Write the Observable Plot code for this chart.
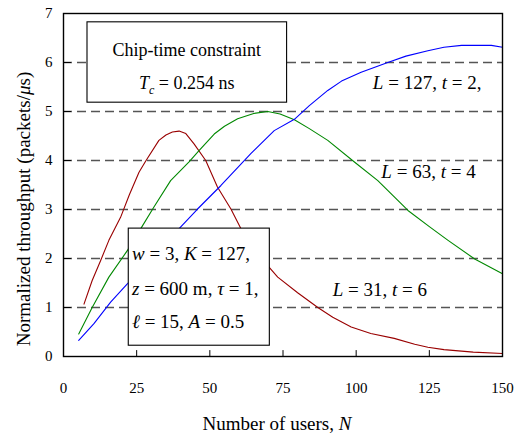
<!DOCTYPE html>
<html>
<head>
<meta charset="utf-8">
<script src="https://cdn.jsdelivr.net/npm/d3@7"></script>
<script src="https://cdn.jsdelivr.net/npm/@observablehq/plot@0.6"></script>
<style>
  html, body { margin: 0; padding: 0; background: white; }
  #chart svg, #chart svg text, #chart svg tspan { font-family: "Liberation Serif", "Times New Roman", "DejaVu Serif", serif !important; }
</style>
</head>
<body>
<div id="chart"></div>
<script>
// ---- data ----
const xTicks = [0, 25, 50, 75, 100, 125, 150];
const yTicks = [0, 1, 2, 3, 4, 5, 6, 7];
const gridY = [1, 2, 3, 4, 5, 6];
const xInnerTicks = [25, 50, 75, 100, 125];
const yInnerTicks = [1, 2, 3, 4, 5, 6];

// L = 31, t = 6 (red)
const redN = [7, 9.8, 12.7, 15.5, 19.5, 22.5, 25.8, 28.1, 32.6, 35, 37.2, 39.5, 41.8, 44.6, 48.6, 52.6, 57.2, 60.6, 65, 70.3, 73.2, 80, 86.9, 92, 98.3, 105, 113, 120, 124.5, 130, 140, 150];
const redY = [1.07, 1.55, 1.96, 2.37, 2.84, 3.3, 3.76, 3.99, 4.41, 4.52, 4.58, 4.6, 4.55, 4.34, 4.0, 3.46, 3.01, 2.61, 2.2, 1.82, 1.62, 1.3, 1.0, 0.8, 0.6, 0.47, 0.37, 0.25, 0.19, 0.14, 0.09, 0.06];

// L = 63, t = 4 (green)
const greenN = [5.2, 9.8, 15.5, 21.8, 24, 26.4, 30.9, 36.6, 42.9, 46.3, 51.5, 55, 59.5, 65, 69.8, 74, 78.9, 84, 90.3, 99.4, 107.4, 117.7, 125, 131.4, 140.5, 150];
const greenY = [0.46, 1.0, 1.62, 2.16, 2.4, 2.61, 3.05, 3.59, 3.97, 4.2, 4.54, 4.7, 4.85, 4.96, 5.0, 4.95, 4.83, 4.65, 4.41, 3.97, 3.59, 2.98, 2.65, 2.37, 1.99, 1.69];

// L = 127, t = 2 (blue)
const blueN = [5.2, 10.4, 16.1, 21.8, 26, 30, 35, 39.5, 45.8, 53.8, 64, 72, 78.9, 84, 90.3, 95, 101.7, 110.8, 117, 124.5, 130, 136, 141, 146.2, 150];
const blueY = [0.33, 0.67, 1.11, 1.48, 1.78, 2.02, 2.33, 2.61, 3.01, 3.49, 4.14, 4.61, 4.84, 5.12, 5.43, 5.62, 5.8, 6.0, 6.13, 6.24, 6.31, 6.35, 6.35, 6.35, 6.31];

// annotation boxes (data units)
const boxX1 = [8.2, 22.3];
const boxX2 = [76.4, 70.5];
const boxY1 = [5.18, 0.22];
const boxY2 = [6.82, 2.61];

// annotation texts (markup: *italic*, _subscript_)
const centerNotes = ["Chip-time constraint", "*T*_c_ = 0.254 ns"];
const centerNoteX = [42.1, 42.1];
const centerNoteY = [6.14, 5.45];

const leftNotes = ["*w* = 3, *K* = 127,", "*z* = 600 m, *τ* = 1,", "*ℓ* = 15, *A* = 0.5",
                   "*L* = 127, *t* = 2,", "*L* = 63, *t* = 4", "*L* = 31, *t* = 6"];
const leftNoteX = [23.4, 23.4, 23.4, 105.7, 108.6, 92];
const leftNoteY = [1.96, 1.26, 0.59, 5.45, 3.65, 1.24];

const xLabel = "Number of users, *N*";
const yLabel = "Normalized throughput (packets/*μ*s)";

// ---- build tables ----
const zip = (xs, ys) => xs.map((x, i) => ({x, y: ys[i]}));
const red = zip(redN, redY), green = zip(greenN, greenY), blue = zip(blueN, blueY);
const boxes = boxX1.map((_, i) => ({x1: boxX1[i], x2: boxX2[i], y1: boxY1[i], y2: boxY2[i]}));
const cNotes = centerNotes.map((t, i) => ({t, x: centerNoteX[i], y: centerNoteY[i]}));
const lNotes = leftNotes.map((t, i) => ({t, x: leftNoteX[i], y: leftNoteY[i]}));

const FONT = "Liberation Serif, Times New Roman, serif";
const tickShape = {draw(context, l) { context.moveTo(0, 0); context.lineTo(0, -l); }};

const chart = Plot.plot({
  width: 519,
  height: 438,
  marginLeft: 63,
  marginRight: 17,
  marginTop: 13,
  marginBottom: 82,
  x: {domain: [0, 150]},
  y: {domain: [0, 7]},
  style: {fontFamily: FONT, fontSize: "15px", color: "black", background: "white"},
  marks: [
    Plot.ruleY(gridY, {stroke: "#555", strokeWidth: 1.3, strokeDasharray: "9,5"}),
    Plot.line(red, {x: "x", y: "y", stroke: "#990000", strokeWidth: 1.1}),
    Plot.line(green, {x: "x", y: "y", stroke: "#008800", strokeWidth: 1.1}),
    Plot.line(blue, {x: "x", y: "y", stroke: "#0000ff", strokeWidth: 1.1}),
    Plot.rect(boxes, {x1: "x1", x2: "x2", y1: "y1", y2: "y2", fill: "white", stroke: "black", strokeWidth: 1.1}),
    Plot.text(cNotes, {x: "x", y: "y", text: "t", textAnchor: "middle", lineAnchor: "bottom", fontSize: 18}),
    Plot.text(lNotes, {x: "x", y: "y", text: "t", textAnchor: "start", lineAnchor: "bottom", fontSize: 19}),
    Plot.axisX({ticks: xTicks, tickSize: 0, tickPadding: 26, tickFormat: d => String(d), label: null, fontSize: 15}),
    Plot.axisY({ticks: yTicks, tickSize: 0, tickPadding: 11, tickFormat: d => String(d), label: null, fontSize: 15}),
    Plot.vector(xInnerTicks, {x: d => d, frameAnchor: "bottom", length: 6, rotate: 0, anchor: "start", shape: tickShape, stroke: "black", strokeWidth: 1}),
    Plot.vector(yInnerTicks, {y: d => d, frameAnchor: "left", length: 7, rotate: 90, anchor: "start", shape: tickShape, stroke: "black", strokeWidth: 1}),
    Plot.text([xLabel], {text: d => d, frameAnchor: "bottom", textAnchor: "middle", dy: 73, dx: -6, fontSize: 19}),
    Plot.text([yLabel], {text: d => d, frameAnchor: "left", textAnchor: "middle", rotate: -90, dx: -40, dy: 24, fontSize: 19}),
    Plot.frame({stroke: "black", strokeWidth: 1.4})
  ]
});

// rich text: *italic*, _subscript_
const NS = "http://www.w3.org/2000/svg";
d3.select(chart).selectAll("text").each(function () {
  const el = this;
  if (el.children.length) return;
  const s = el.textContent;
  if (!/[*_]/.test(s)) return;
  el.textContent = "";
  const parts = s.split(/(\*[^*]+\*|_[^_]+_)/);
  let shifted = false;
  for (const p of parts) {
    if (!p) continue;
    const t = document.createElementNS(NS, "tspan");
    if (p[0] === "*") {
      t.setAttribute("font-style", "italic");
      t.textContent = p.slice(1, -1);
      if (shifted) { t.setAttribute("dy", "-5"); shifted = false; }
    } else if (p[0] === "_") {
      t.setAttribute("font-style", "italic");
      t.setAttribute("font-size", "12");
      t.setAttribute("dy", "5");
      t.textContent = p.slice(1, -1);
      shifted = true;
    } else {
      t.textContent = p;
      if (shifted) { t.setAttribute("dy", "-5"); shifted = false; }
    }
    el.appendChild(t);
  }
});

document.getElementById("chart").appendChild(chart);
</script>
</body>
</html>
